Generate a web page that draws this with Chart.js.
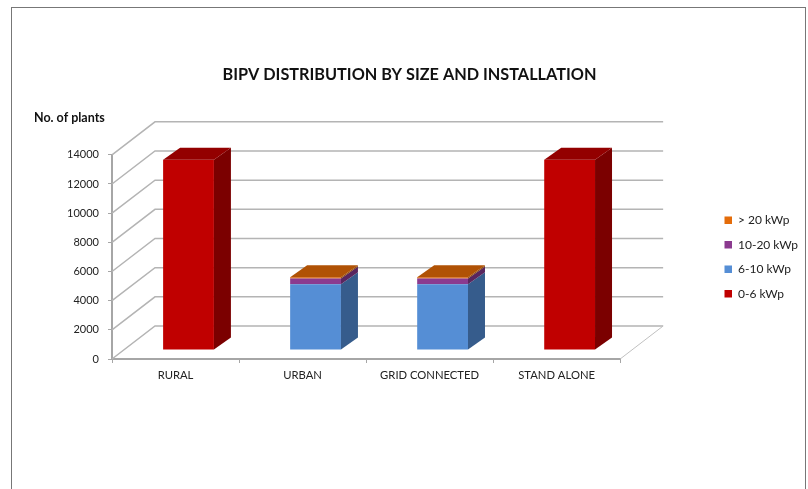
<!DOCTYPE html>
<html>
<head>
<meta charset="utf-8">
<title>BIPV distribution</title>
<script src="https://cdn.jsdelivr.net/npm/chart.js@4/dist/chart.umd.min.js"></script>
<style>
    html, body { margin: 0; padding: 0; background: #fff; overflow: hidden; }
    #caixa { position: relative; width: 808px; height: 489px; }
    #moldura { position: absolute; left: 11px; top: 7px; width: 793px; height: 500px; border: 1.5px solid #777; pointer-events: none; }
    canvas { position: absolute; left: 0; top: 0; }
</style>
</head>
<body>
<div id="caixa">
    <canvas id="grafico" width="808" height="489"></canvas>
    <div id="moldura"></div>
</div>
<script>
const categorias = ["RURAL", "URBAN", "GRID CONNECTED", "STAND ALONE"];
const kwp0a6 = [13050, 0, 0, 13050];
const kwp6a10 = [0, 4500, 4500, 0];
const kwp10a20 = [0, 400, 400, 0];
const kwpAcima20 = [0, 90, 90, 0];
const marcasY = [0, 2000, 4000, 6000, 8000, 10000, 12000, 14000];

const coresLaterais = ['#7b0000', '#365c8c', '#59265e', '#8f4a08'];
const coresTopo = ['#930000', '#43709f', '#6e2f74', '#b05205'];

// profundidade da "caixa" 3D e das barras, em pixels
const fundoX = 43, fundoY = 33;
const barraX = 17, barraY = 12;
const recuoX = 13, recuoY = 9;

Chart.defaults.font.family = 'Lato, "Liberation Sans", sans-serif';

const plugin3d = {
    id: 'plugin3d',
    afterLayout(chart) {
        // legenda e titulos ficam fora do lugar padrao do Chart.js
        chart.legend.left = 712;
        chart.legend.right = 712 + chart.legend.width;
        chart.legend.top += 12.5;
        chart.legend.bottom += 12.5;
        chart.titleBlock.left = 0;
        chart.titleBlock.right = 819;
        const sub = chart.boxes.find(b => b.options && b.options.text === 'No. of plants');
        sub.left = 34;
        sub.right = 300;
    },
    beforeDatasetsDraw(chart) {
        const ctx = chart.ctx;
        const area = chart.chartArea;
        const y = chart.scales.y;

        ctx.save();
        ctx.strokeStyle = '#b4b4b4';
        ctx.lineWidth = 1.5;
        marcasY.forEach(function (valor) {
            const py = y.getPixelForValue(valor);
            ctx.beginPath();
            ctx.moveTo(area.left, py);
            ctx.lineTo(area.left + fundoX, py - fundoY);
            ctx.lineTo(area.right + fundoX, py - fundoY);
            ctx.stroke();
        });
        ctx.lineWidth = 1;
        ctx.strokeStyle = '#c0c0c0';
        ctx.beginPath();
        ctx.moveTo(area.right, area.bottom);
        ctx.lineTo(area.right + fundoX, area.bottom - fundoY);
        ctx.stroke();
        ctx.restore();

        // barras ficam no meio da profundidade
        ctx.save();
        ctx.translate(recuoX, -recuoY);
    },
    afterDatasetsDraw(chart) {
        const ctx = chart.ctx;

        categorias.forEach(function (_, i) {
            let ultimo = null;
            chart.data.datasets.forEach(function (ds, d) {
                const barra = chart.getDatasetMeta(d).data[i];
                if (ds.data[i] === 0) return;
                const dir = barra.x + barra.width / 2;
                ctx.fillStyle = coresLaterais[d];
                ctx.beginPath();
                ctx.moveTo(dir, barra.base);
                ctx.lineTo(dir + barraX, barra.base - barraY);
                ctx.lineTo(dir + barraX, barra.y - barraY);
                ctx.lineTo(dir, barra.y);
                ctx.closePath();
                ctx.fill();
                ultimo = d;
            });
            if (ultimo === null) return;

            const topo = chart.getDatasetMeta(ultimo).data[i];
            const esq = topo.x - topo.width / 2;
            const dir = topo.x + topo.width / 2;
            ctx.fillStyle = coresTopo[ultimo];
            ctx.beginPath();
            ctx.moveTo(esq, topo.y);
            ctx.lineTo(dir, topo.y);
            ctx.lineTo(dir + barraX, topo.y - barraY);
            ctx.lineTo(esq + barraX, topo.y - barraY);
            ctx.closePath();
            ctx.fill();
        });

        ctx.restore();
    }
};

new Chart(document.getElementById('grafico'), {
    type: 'bar',
    data: {
        labels: categorias,
        datasets: [
            { label: '0-6 kWp', data: kwp0a6, backgroundColor: '#c00000' },
            { label: '6-10 kWp', data: kwp6a10, backgroundColor: '#558ed5' },
            { label: '10-20 kWp', data: kwp10a20, backgroundColor: '#8b3a8f' },
            { label: '> 20 kWp', data: kwpAcima20, backgroundColor: '#e46c0a' }
        ]
    },
    plugins: [plugin3d],
    options: {
        responsive: false,
        animation: false,
        barPercentage: 0.4,
        categoryPercentage: 1,
        layout: { padding: { left: 0, right: 92, top: 0, bottom: 0 } },
        scales: {
            x: {
                stacked: true,
                afterFit(scale) { scale.height = 130; },
                grid: { drawOnChartArea: false, tickLength: 4, color: '#a6a6a6' },
                border: { color: '#a6a6a6', width: 2 },
                ticks: { color: '#222', padding: 6, maxRotation: 0, autoSkip: false, font: { size: 11.25 } }
            },
            y: {
                stacked: true,
                min: 0,
                max: 14000,
                afterFit(scale) { scale.width = 112; },
                afterBuildTicks(scale) { scale.ticks = marcasY.map(v => ({ value: v })); },
                grid: { drawOnChartArea: false, tickLength: 4, color: '#a6a6a6' },
                border: { color: '#a6a6a6', width: 2 },
                ticks: { color: '#222', padding: 9, font: { size: 11 }, callback: v => String(v) }
            }
        },
        plugins: {
            title: {
                display: true,
                text: 'BIPV DISTRIBUTION BY SIZE AND INSTALLATION',
                color: '#111',
                font: { size: 16.25, weight: 'bold' },
                padding: { top: 65.5, bottom: 25.5 }
            },
            subtitle: {
                display: true,
                text: 'No. of plants',
                align: 'start',
                color: '#111',
                font: { size: 12.5, weight: 'bold' },
                padding: { top: 0, bottom: 29.3 }
            },
            legend: {
                position: 'right',
                reverse: true,
                labels: {
                    boxWidth: 7.5,
                    boxHeight: 7.5,
                    padding: 12.5,
                    color: '#222',
                    font: { size: 12 }
                }
            },
            tooltip: { enabled: false }
        }
    }
});
</script>
</body>
</html>
